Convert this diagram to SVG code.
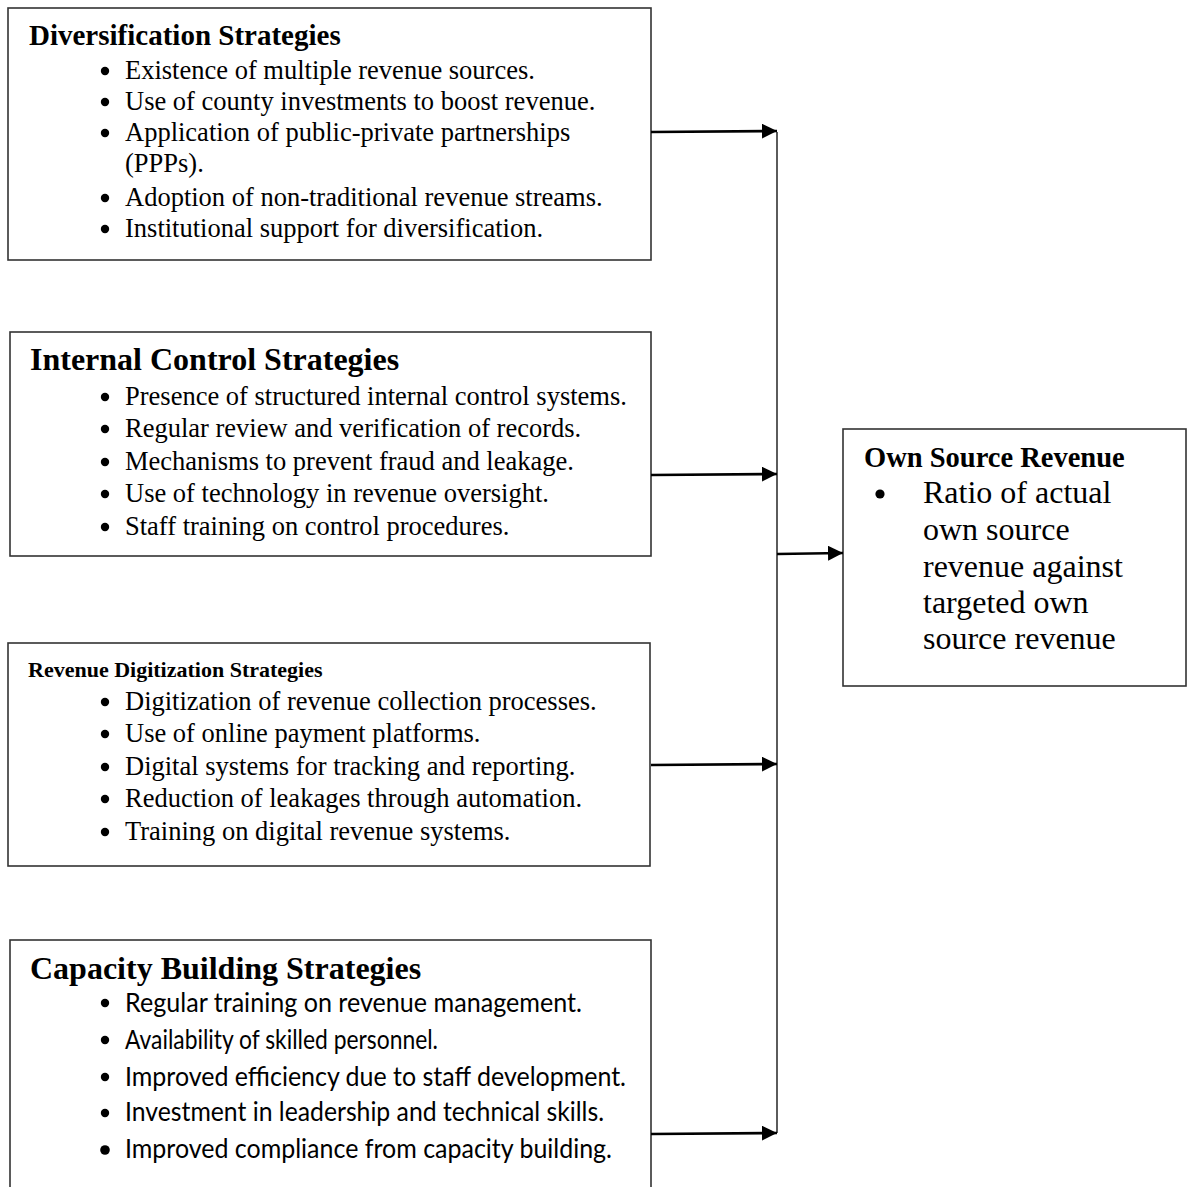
<svg xmlns="http://www.w3.org/2000/svg" width="1188" height="1187" viewBox="0 0 1188 1187">
<style>
.box{fill:#fff;stroke:#333;stroke-width:1.6}
.t{font-family:"Liberation Serif","Times New Roman",serif;fill:#000}
.h{font-weight:bold}
.b{font-size:26.5px}
.s{font-family:Lato,"Open Sans","Liberation Sans",sans-serif;font-size:26.5px;fill:#000}
.dot{fill:#000}
.conn{stroke:#000;stroke-width:2.6;fill:none}
.bus{stroke:#333;stroke-width:1.6;fill:none}
</style>
<defs>
<marker id="ah" markerUnits="userSpaceOnUse" markerWidth="16" markerHeight="16" refX="15" refY="7.5" orient="auto">
<path d="M0,0 L15,7.5 L0,15 z" fill="#000"/>
</marker>
</defs>
<rect width="1188" height="1187" fill="#fff"/>

<g id="diversification">
<rect class="box" x="8" y="8" width="643" height="252"/>
<text class="t h" x="29" y="45" font-size="29">Diversification Strategies</text>
<g class="dot"><circle cx="105" cy="71" r="4.2"/><circle cx="105" cy="102" r="4.2"/><circle cx="105" cy="133" r="4.2"/><circle cx="105" cy="198" r="4.2"/><circle cx="105" cy="229" r="4.2"/></g>
<text class="t b" x="125" y="79">Existence of multiple revenue sources.</text>
<text class="t b" x="125" y="110">Use of county investments to boost revenue.</text>
<text class="t b" x="125" y="141">Application of public-private partnerships</text>
<text class="t b" x="125" y="172">(PPPs).</text>
<text class="t b" x="125" y="206">Adoption of non-traditional revenue streams.</text>
<text class="t b" x="125" y="237">Institutional support for diversification.</text>
</g>

<g id="internal-control">
<rect class="box" x="10" y="332" width="641" height="224"/>
<text class="t h" x="30" y="370" font-size="32">Internal Control Strategies</text>
<g class="dot"><circle cx="105" cy="397" r="4.2"/><circle cx="105" cy="429" r="4.2"/><circle cx="105" cy="462" r="4.2"/><circle cx="105" cy="494" r="4.2"/><circle cx="105" cy="527" r="4.2"/></g>
<text class="t b" x="125" y="405">Presence of structured internal control systems.</text>
<text class="t b" x="125" y="437">Regular review and verification of records.</text>
<text class="t b" x="125" y="470">Mechanisms to prevent fraud and leakage.</text>
<text class="t b" x="125" y="502">Use of technology in revenue oversight.</text>
<text class="t b" x="125" y="535">Staff training on control procedures.</text>
</g>

<g id="revenue-digitization">
<rect class="box" x="8" y="643" width="642" height="223"/>
<text class="t h" x="28" y="677" font-size="22">Revenue Digitization Strategies</text>
<g class="dot"><circle cx="105" cy="702" r="4.2"/><circle cx="105" cy="734" r="4.2"/><circle cx="105" cy="767" r="4.2"/><circle cx="105" cy="799" r="4.2"/><circle cx="105" cy="832" r="4.2"/></g>
<text class="t b" x="125" y="710">Digitization of revenue collection processes.</text>
<text class="t b" x="125" y="742">Use of online payment platforms.</text>
<text class="t b" x="125" y="775">Digital systems for tracking and reporting.</text>
<text class="t b" x="125" y="807">Reduction of leakages through automation.</text>
<text class="t b" x="125" y="840">Training on digital revenue systems.</text>
</g>

<g id="capacity-building">
<rect class="box" x="10" y="940" width="641" height="270"/>
<text class="t h" x="30" y="979" font-size="32">Capacity Building Strategies</text>
<g class="dot"><circle cx="105" cy="1003" r="4.2"/><circle cx="105" cy="1040" r="4.2"/><circle cx="105" cy="1077" r="4.2"/><circle cx="105" cy="1113" r="4.2"/><circle cx="105" cy="1150" r="4.8"/></g>
<text class="s" x="125" y="1012" textLength="457" lengthAdjust="spacingAndGlyphs">Regular training on revenue management.</text>
<text class="s" x="125" y="1049" textLength="313" lengthAdjust="spacingAndGlyphs">Availability of skilled personnel.</text>
<text class="s" x="125" y="1086" textLength="501" lengthAdjust="spacingAndGlyphs">Improved efficiency due to staff development.</text>
<text class="s" x="125" y="1121" textLength="479" lengthAdjust="spacingAndGlyphs">Investment in leadership and technical skills.</text>
<text class="s" x="125" y="1158" textLength="487" lengthAdjust="spacingAndGlyphs">Improved compliance from capacity building.</text>
</g>

<g id="own-source-revenue">
<rect class="box" x="843" y="429" width="343" height="257"/>
<text class="t h" x="864" y="467" font-size="28.5">Own Source Revenue</text>
<circle class="dot" cx="880" cy="494" r="4.6"/>
<text class="t" x="923" y="503" font-size="32">Ratio of actual</text>
<text class="t" x="923" y="540" font-size="32">own source</text>
<text class="t" x="923" y="577" font-size="32">revenue against</text>
<text class="t" x="923" y="613" font-size="32">targeted own</text>
<text class="t" x="923" y="649" font-size="32">source revenue</text>
</g>

<g id="connectors">
<line class="bus" x1="777" y1="132" x2="777" y2="1133"/>
<line class="conn" x1="651" y1="132" x2="777" y2="131" marker-end="url(#ah)"/>
<line class="conn" x1="651" y1="475" x2="777" y2="474" marker-end="url(#ah)"/>
<line class="conn" x1="651" y1="765" x2="777" y2="764" marker-end="url(#ah)"/>
<line class="conn" x1="651" y1="1134" x2="777" y2="1133" marker-end="url(#ah)"/>
<line class="conn" x1="777" y1="554" x2="843" y2="553" marker-end="url(#ah)"/>
</g>
</svg>
